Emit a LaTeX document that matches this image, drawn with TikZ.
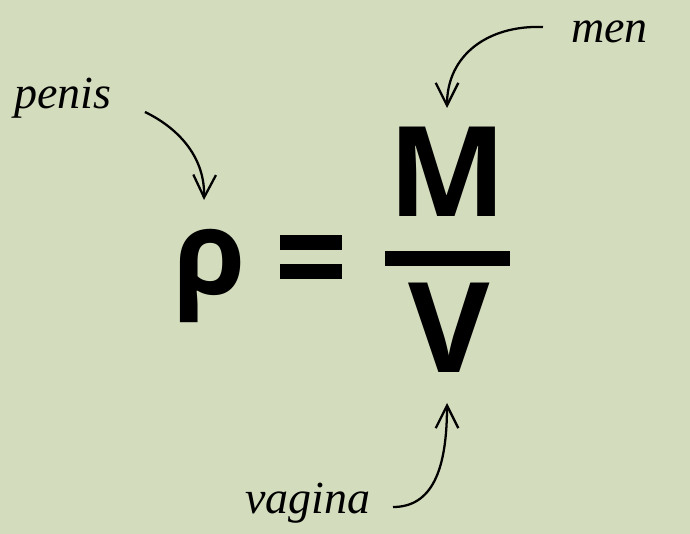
\documentclass[tikz,border=0pt]{standalone}
\usepackage{fontspec}
\setmainfont{Liberation Serif}
\newfontfamily\bigsans{Open Sans}
\usetikzlibrary{arrows.meta}
\definecolor{bgsage}{RGB}{211,220,189}
\begin{document}
\begin{tikzpicture}[x=0.75pt,y=-0.75pt,
  lbl/.style={font=\fontsize{34.5}{40}\selectfont\itshape, inner sep=0pt, anchor=base west},
  bigletter/.style={font=\fontsize{94}{100}\bigsans\bfseries, inner sep=0pt, anchor=base},
  bar/.style={fill=black, draw=none},
  pointer/.style={line width=1.7pt, -{Straight Barb[length=17pt,width=17pt,line width=1.7pt]}}]
\fill[bgsage] (0,0) rectangle (690,534);
\useasboundingbox (0,0) rectangle (690,534);
% labels
\node[lbl] (penis) at (14,109) {penis};
\node[lbl] (men) at (571,43) {men};
\node[lbl] (vagina) at (245,514) {vagina};
% formula
\node[bigletter, anchor=base west, font=\fontsize{88}{94}\bigsans\bfseries] (rho) at (173,295) {ρ};
\fill[bar] (280,235) rectangle (342,250);
\fill[bar] (280,264) rectangle (342,279);
\node[bigletter] (M) at (447.5,217) {M};
\fill[bar] (385,251) rectangle (510,266);
\node[bigletter] (V) at (449.5,373) {V};
% arrow ends
\coordinate (pstart) at (145,112);
\coordinate (ptip) at (204,200);
\coordinate (mstart) at (543,27);
\coordinate (mtip) at (447,108);
\coordinate (vstart) at (393,507);
\coordinate (vtip) at (447,403);
\draw[pointer] (pstart) .. controls (182,130) and (205,160) .. (ptip);
\draw[pointer] (mstart) .. controls (488,25) and (447,55) .. (mtip);
\draw[pointer] (vstart) .. controls (432,507) and (447,470) .. (vtip);
\end{tikzpicture}
\end{document}
